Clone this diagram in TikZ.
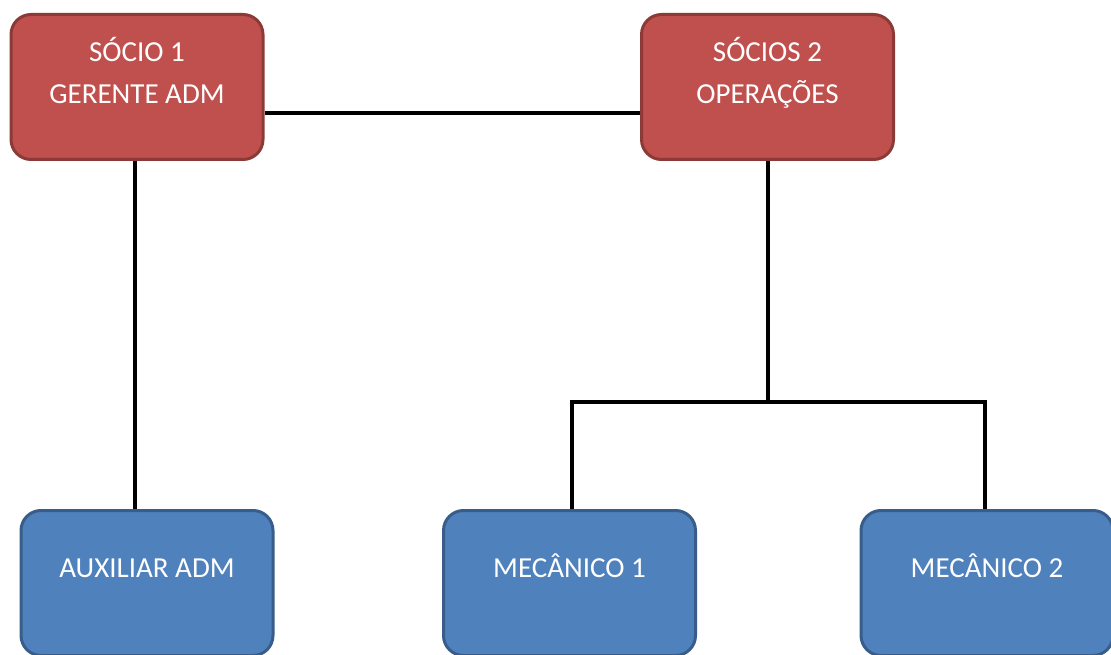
\documentclass[tikz,border=0pt]{standalone}
\usepackage{fontspec}
\setmainfont{Carlito}
\usetikzlibrary{backgrounds}
\definecolor{redfill}{HTML}{C0504D}
\definecolor{redline}{HTML}{8C3A38}
\definecolor{bluefill}{HTML}{4F81BD}
\definecolor{blueline}{HTML}{385D8A}
\tikzset{
  box/.style={rectangle, rounded corners=20pt, line width=3pt,
    minimum width=252pt, minimum height=145pt, inner sep=0pt},
  redbox/.style={box, fill=redfill, draw=redline},
  bluebox/.style={box, fill=bluefill, draw=blueline},
  lbl/.style={text=white, align=center, inner sep=0pt, text height=21pt, text depth=7pt,
    font=\fontsize{29}{42}\selectfont},
  conn/.style={line width=4pt, draw=black}
}
\begin{document}
\begin{tikzpicture}[x=1pt,y=-1pt]
\useasboundingbox (0,0) rectangle (1111,655);
\clip (0,0) rectangle (1111,655);
\node[redbox] (s1) at (137,87) {};
\node[redbox] (s2) at (767.5,87) {};
\node[bluebox] (aux) at (147,583) {};
\node[bluebox] (m1) at (569.5,583) {};
\node[bluebox] (m2) at (987,583) {};
\coordinate (j) at (767.5,402);
\begin{scope}[on background layer]
\draw[conn] ([yshift=-26pt]s1.east) -- ([yshift=-26pt]s2.west);
\draw[conn] ([xshift=-2pt]s1.south) -- ([xshift=-2pt]s1.south |- aux.north);
\draw[conn] (s2.south) -- (j);
\draw[conn, line join=miter] ([xshift=2.5pt]m1.north) |- (j) -| ([xshift=-2pt]m2.north);
\end{scope}
\node[lbl] (t1) at ([yshift=-10pt]s1.center) {SÓCIO 1\\GERENTE ADM};
\node[lbl] (t2) at ([yshift=-10pt]s2.center) {SÓCIOS 2\\OPERAÇÕES};
\node[lbl] (t3) at ([yshift=13pt]aux.center) {AUXILIAR ADM};
\node[lbl] (t4) at ([yshift=13pt]m1.center) {MECÂNICO 1};
\node[lbl] (t5) at ([yshift=13pt]m2.center) {MECÂNICO 2};
\end{tikzpicture}
\end{document}
